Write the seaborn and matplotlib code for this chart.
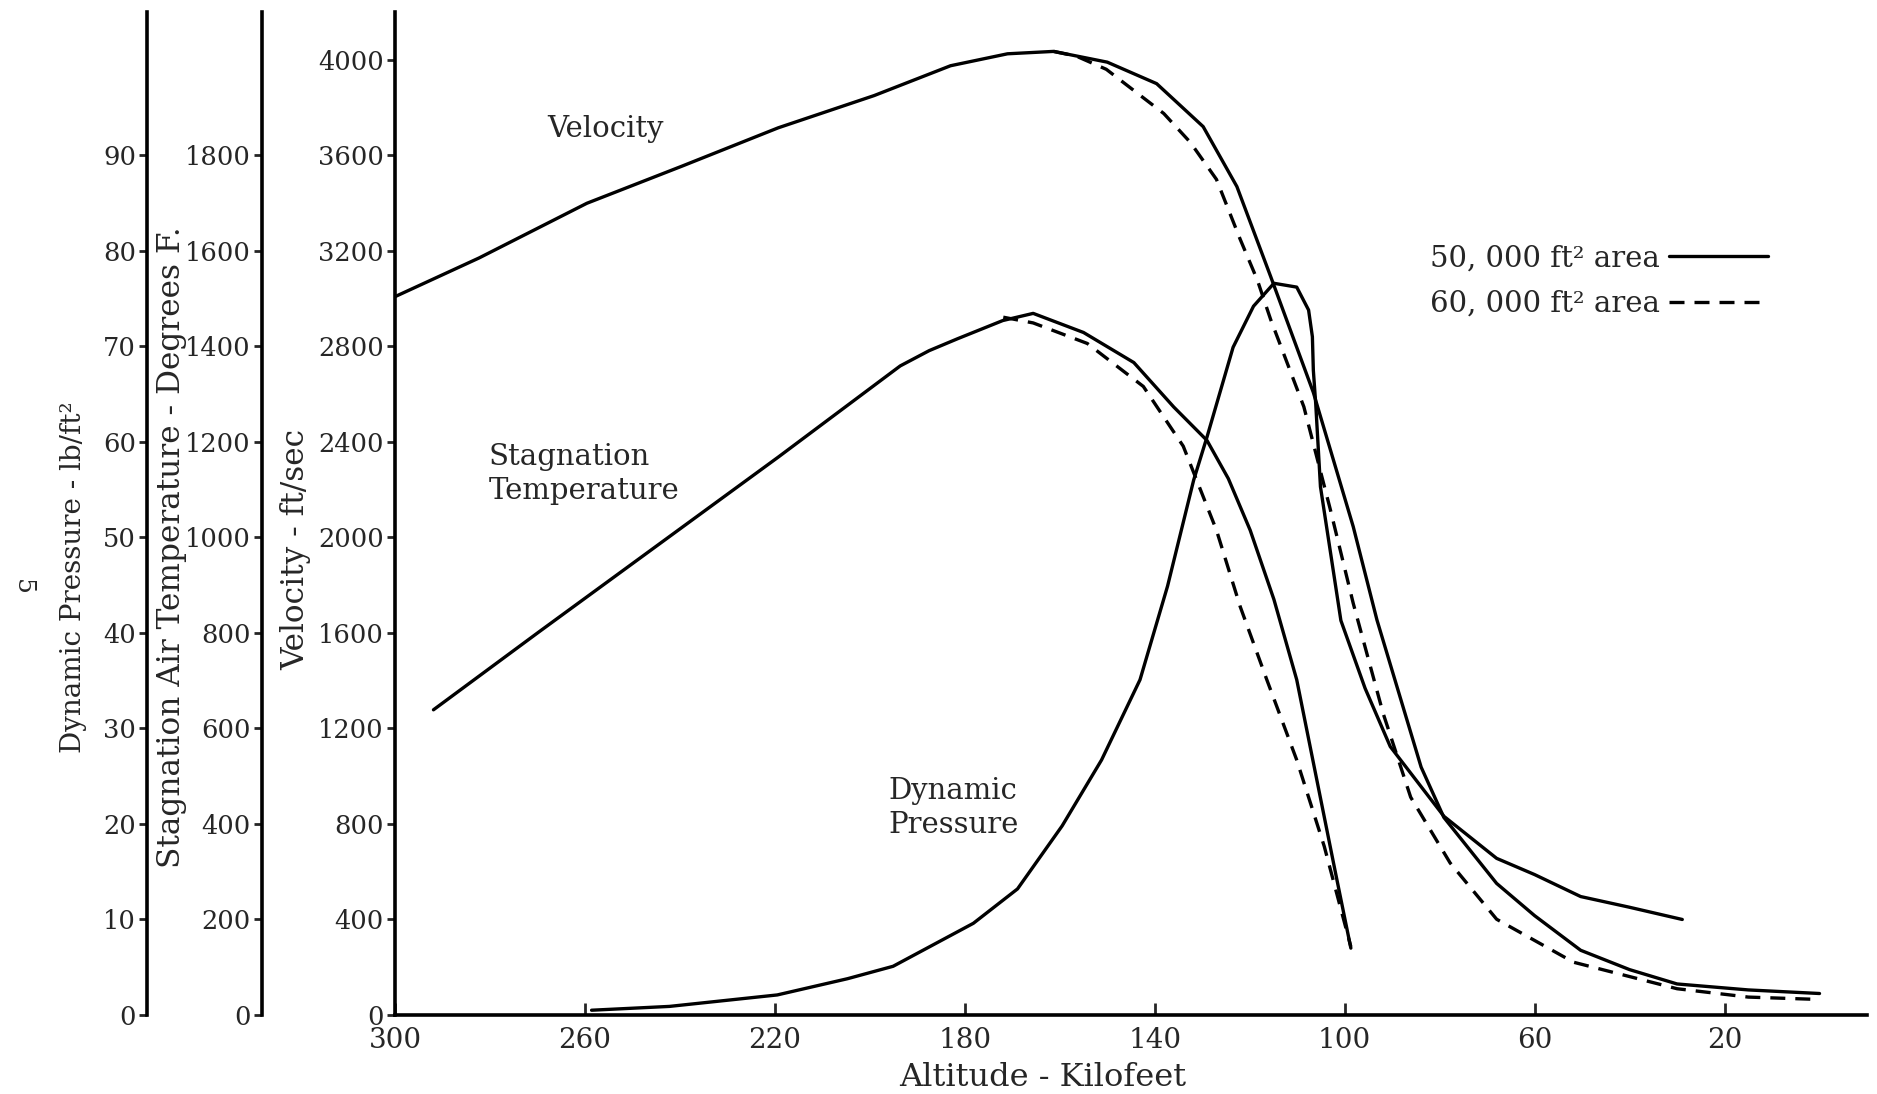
import matplotlib
matplotlib.use("Agg")
import numpy as np
import pandas as pd
import seaborn as sns
import matplotlib.pyplot as plt
from matplotlib.lines import Line2D

# values (altitude in kilofeet)
vel_alt_50 = [300, 282.3, 259.6, 239.5, 219.3, 199.1, 183, 171, 161.3, 150, 139.6, 129.8, 122.7,
              115.6, 106.6, 98.2, 93.2, 83.9, 79.1, 68, 60, 50.3, 40, 30, 15, 0]
vel_50 = [3008, 3170, 3399, 3555, 3715, 3850, 3975, 4025, 4035, 3990, 3900, 3720, 3469,
          3093, 2607, 2045, 1654, 1038, 827, 551, 416, 271, 190, 130, 105, 90]

vel_alt_60 = [161.3, 156.5, 150.2, 138.1, 132.5, 127, 122, 118.4, 115.6, 108.6, 103, 98.2,
              91.9, 86.1, 77.8, 68, 51.8, 30, 15, 0]
vel_60 = [4035, 4015, 3960, 3775, 3654, 3499, 3248, 3078, 2913, 2547, 2115, 1724,
          1263, 912, 637, 401, 221, 110, 75, 65]

temp_alt_50 = [291.9, 269.7, 244.5, 219.3, 193.6, 187.5, 181.5, 172, 165.6, 155, 144.4, 136, 129,
               124.5, 119.9, 114.9, 110.1, 105.8, 102, 98.7]
temp_50 = [639, 802, 985, 1168, 1359, 1391, 1416, 1454, 1469, 1429, 1366, 1273, 1203,
           1123, 1015, 870, 702, 489, 301, 140]

temp_alt_60 = [171.9, 165.6, 154.2, 142.4, 134, 127, 122, 116.4, 110.1, 104.3, 98.7]
temp_60 = [1461, 1449, 1406, 1316, 1191, 1015, 855, 702, 534, 353, 143]

q_alt = [258.6, 242.2, 219.5, 204.7, 195.1, 178.2, 168.9, 159.5, 151.2, 143.1, 137.3, 131.8,
         129.0, 123.5, 119.2, 114.9, 110.1, 107.6, 106.8, 106.6, 106.1, 105.1, 100.8, 95.7,
         90.4, 79.1, 68.0, 60.0, 50.3, 40.2, 28.9]
q_50 = [0.5, 0.9, 2.1, 3.8, 5.1, 9.6, 13.2, 19.8, 26.7, 35.1, 44.9, 56.0,
        60.5, 69.9, 74.2, 76.6, 76.2, 73.8, 71.0, 67.5, 64.0, 55.3, 41.3, 34.2,
        28.1, 20.8, 16.4, 14.7, 12.4, 11.3, 10.0]

alt_ticks = [300, 260, 220, 180, 140, 100, 60, 20]
vel_ticks = list(range(0, 4001, 400))
temp_ticks = list(range(0, 1801, 200))
q_ticks = list(range(0, 91, 10))
legend_labels = ["50, 000 ft² area", "60, 000 ft² area"]

sns.set_style("white")
plt.rcParams["font.family"] = ["DejaVu Serif"]

W, H = 1877, 1094
fig = plt.figure(figsize=(W / 100, H / 100), dpi=100)
# main axes (velocity), placed in pixels of the original
left, right, bottom, top = 395, 1867, 1015, 12
ax = fig.add_axes([left / W, 1 - bottom / H, (right - left) / W, (bottom - top) / H])
axw = right - left
axh = bottom - top

tw_t = ax.twinx()
tw_q = ax.twinx()

lw = 2.4
dash = (0, (4.5, 3))
sns.lineplot(x=vel_alt_50, y=vel_50, ax=ax, color="black", lw=lw, sort=False, estimator=None)
sns.lineplot(x=vel_alt_60, y=vel_60, ax=ax, color="black", lw=lw, linestyle=dash, sort=False, estimator=None)
sns.lineplot(x=temp_alt_50, y=temp_50, ax=tw_t, color="black", lw=lw, sort=False, estimator=None)
sns.lineplot(x=temp_alt_60, y=temp_60, ax=tw_t, color="black", lw=lw, linestyle=dash, sort=False, estimator=None)
sns.lineplot(x=q_alt, y=q_50, ax=tw_q, color="black", lw=lw, sort=False, estimator=None)

ax.set_xlim(300, -10)
ax.set_ylim(0, 4200)
tw_t.set_ylim(0, 2100)
tw_q.set_ylim(0, 105)

tick_fs = 18.5
ax.set_xticks(alt_ticks)
ax.set_yticks(vel_ticks)
tw_t.set_yticks(temp_ticks)
tw_q.set_yticks(q_ticks)

for s in ["top", "right"]:
    ax.spines[s].set_visible(False)
for s in ["left", "bottom"]:
    ax.spines[s].set_linewidth(2.6)
    ax.spines[s].set_color("black")
ax.tick_params(axis="y", direction="out", length=6, width=2, pad=2, labelsize=tick_fs, left=True)
ax.tick_params(axis="x", direction="in", length=9, width=2, pad=9, labelsize=20, bottom=True)

for t, pos in [(tw_t, 262), (tw_q, 147)]:
    for s in ["top", "bottom", "right"]:
        t.spines[s].set_visible(False)
    t.spines["left"].set_visible(True)
    t.spines["left"].set_position(("axes", (pos - left) / axw))
    t.spines["left"].set_linewidth(2.6)
    t.spines["left"].set_color("black")
    t.yaxis.set_ticks_position("left")
    t.yaxis.set_label_position("left")
    t.tick_params(axis="y", direction="out", length=6, width=2, pad=2, labelsize=tick_fs, left=True, right=False)
    t.grid(False)
ax.grid(False)

# axis titles
ax.set_ylabel("Velocity - ft/sec", fontsize=22.5, va="center")
ax.yaxis.set_label_coords((296 - left) / axw, (bottom - 549) / axh)
tw_t.set_ylabel("Stagnation Air Temperature - Degrees F.", fontsize=22.5, va="center")
tw_t.yaxis.set_label_coords((172 - left) / axw, (bottom - 547) / axh)
tw_q.set_ylabel("Dynamic Pressure - lb/ft²", fontsize=20, va="center")
tw_q.yaxis.set_label_coords((74 - left) / axw, (bottom - 577) / axh)
ax.set_xlabel("Altitude - Kilofeet", fontsize=23)
ax.xaxis.set_label_coords((1043 - left) / axw, (bottom - 1077) / axh)
ax.xaxis.label.set_va("center")

# curve names
txt_fs = 21
ax.text(268, 3710, "Velocity", fontsize=txt_fs, ha="left", va="center")
ax.text(280.3, 2266, "Stagnation\nTemperature", fontsize=txt_fs, ha="left", va="center", linespacing=1.25)
ax.text(196.1, 867, "Dynamic\nPressure", fontsize=txt_fs, ha="left", va="center", linespacing=1.25)

handles = [Line2D([], [], color="black", lw=lw), Line2D([], [], color="black", lw=lw, linestyle=dash)]
ax.legend(handles, legend_labels, markerfirst=False, frameon=False, loc="center left",
          bbox_to_anchor=((1430 - left) / axw, (bottom - 281) / axh),
          fontsize=txt_fs, handlelength=3.4, handletextpad=0.3, labelspacing=0.6,
          borderpad=0, borderaxespad=0)

# page number of the scanned report
fig.text(22 / W, 1 - 587 / H, "5", rotation=-90, fontsize=18, ha="center", va="center")

fig.savefig("out.png", dpi=100)
